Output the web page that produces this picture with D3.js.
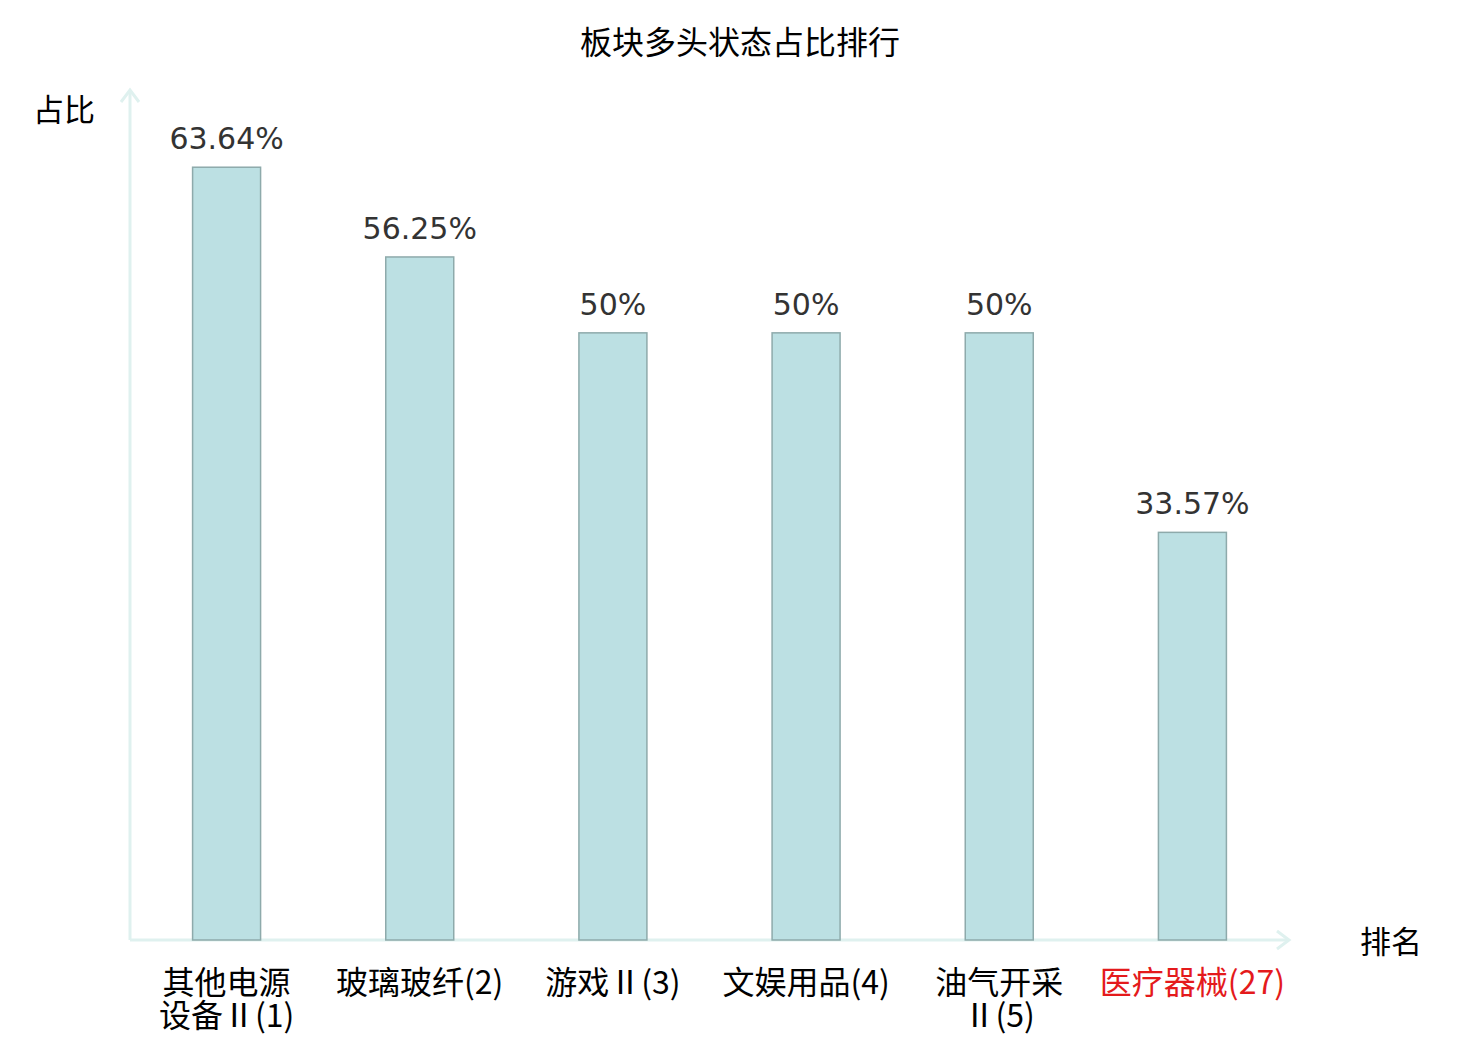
<!DOCTYPE html>
<html>
<head>
<meta charset="utf-8">
<script src="https://cdn.jsdelivr.net/npm/d3@7"></script>
<style>
  body { margin: 0; background: #fff; }
  text { font-family: "DejaVu Sans", "Noto Sans CJK SC", sans-serif; }
  .cat { font-family: "Noto Sans CJK SC", sans-serif; }
</style>
</head>
<body>
<svg width="1480" height="1040"></svg>
<script>
// chart data ("\n" marks where the tick label breaks)
var categories = ["其他电源\n设备Ⅱ(1)", "玻璃玻纤(2)", "游戏Ⅱ(3)", "文娱用品(4)", "油气开采\nⅡ(5)", "医疗器械(27)"];
var values = [63.64, 56.25, 50, 50, 50, 33.57];
var valueLabels = ["63.64%", "56.25%", "50%", "50%", "50%", "33.57%"];
var highlight = "医疗器械(27)";

var svg = d3.select("svg"),
    x0 = 130, x1 = 1289,
    y0 = 940, y1 = 90;

var xScale = d3.scaleBand().domain(categories).range([x0, x1]).padding(0),
    yScale = d3.scaleLinear().domain([0, 70]).range([y0, y1]);
var barW = xScale.bandwidth() * 0.352;

svg.append("text")
   .attr("x", 740).attr("y", 54)
   .attr("text-anchor", "middle")
   .style("font-size", "32px").style("fill", "#000")
   .text("板块多头状态占比排行");

// axes with arrows
var axisColor = "#dff1ef";
svg.append("line").attr("x1", x0).attr("y1", y0).attr("x2", x0).attr("y2", y1)
   .attr("stroke", axisColor).attr("stroke-width", 3);
svg.append("polyline").attr("points", (x0 - 9) + "," + (y1 + 12) + " " + x0 + "," + y1 + " " + (x0 + 9) + "," + (y1 + 12))
   .attr("fill", "none").attr("stroke", axisColor).attr("stroke-width", 3);
svg.append("line").attr("x1", x0).attr("y1", y0).attr("x2", x1).attr("y2", y0)
   .attr("stroke", axisColor).attr("stroke-width", 3);
svg.append("polyline").attr("points", (x1 - 12) + "," + (y0 - 9) + " " + x1 + "," + y0 + " " + (x1 - 12) + "," + (y0 + 9))
   .attr("fill", "none").attr("stroke", axisColor).attr("stroke-width", 3);

svg.append("text").attr("x", 33).attr("y", 121)
   .style("font-size", "31px").style("fill", "#000").text("占比");
svg.append("text").attr("x", 1360).attr("y", 953)
   .style("font-size", "31px").style("fill", "#000").text("排名");

svg.selectAll(".bar")
   .data(values)
   .enter().append("rect")
   .attr("class", "bar")
   .attr("x", function(_, i) { return xScale(categories[i]) + (xScale.bandwidth() - barW) / 2; })
   .attr("y", function(d) { return yScale(d); })
   .attr("width", barW)
   .attr("height", function(d) { return y0 - yScale(d); })
   .attr("fill", "#bce0e3")
   .attr("stroke", "#8eaaab")
   .attr("stroke-width", 1.5);

svg.selectAll(".val")
   .data(values)
   .enter().append("text")
   .attr("class", "val")
   .attr("x", function(_, i) { return xScale(categories[i]) + xScale.bandwidth() / 2; })
   .attr("y", function(d) { return yScale(d) - 18; })
   .attr("text-anchor", "middle")
   .style("font-size", "30px").style("fill", "#333")
   .text(function(_, i) { return valueLabels[i]; });

// category tick labels, one text per line
categories.forEach(function(c) {
  c.split("\n").forEach(function(l, k) {
    svg.append("text").attr("class", "cat")
       .attr("x", xScale(c) + xScale.bandwidth() / 2)
       .attr("y", 994 + k * 33)
       .attr("text-anchor", "middle")
       .style("font-size", "32px")
       .style("fill", c === highlight ? "#e41a1c" : "#000")
       .text(l);
  });
});
</script>
</body>
</html>
